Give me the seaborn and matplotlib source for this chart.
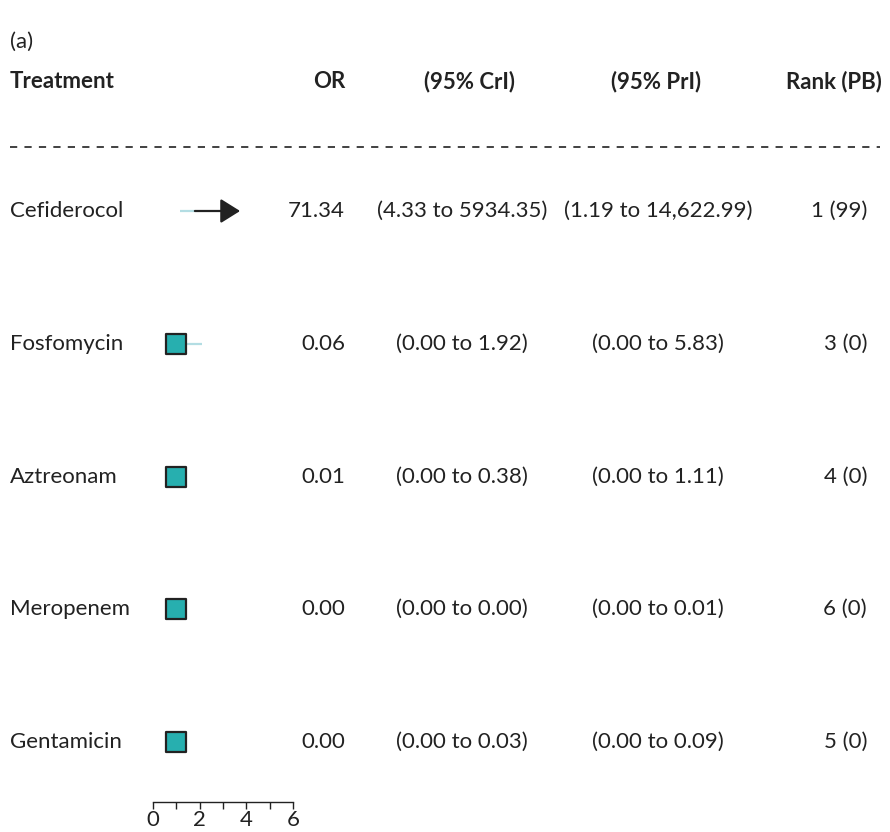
import matplotlib
matplotlib.use("Agg")
import matplotlib.pyplot as plt
import matplotlib.transforms as mtransforms
import pandas as pd
import seaborn as sns

# Données du forest plot
treatments = ['Cefiderocol', 'Fosfomycin', 'Aztreonam', 'Meropenem', 'Gentamicin']
or_text = ['71.34', '0.06', '0.01', '0.00', '0.00']
crl_text = ['(4.33 to 5934.35)', '(0.00 to 1.92)', '(0.00 to 0.38)', '(0.00 to 0.00)', '(0.00 to 0.03)']
prl_text = ['(1.19 to 14,622.99)', '(0.00 to 5.83)', '(0.00 to 1.11)', '(0.00 to 0.01)', '(0.00 to 0.09)']
rank_text = ['1 (99)', '3 (0)', '4 (0)', '6 (0)', '5 (0)']

square_x = [None, 1.0, 1.0, 1.0, 1.0]
pred_lo = [1.17, 1.0, 1.0, 1.0, 1.0]
pred_hi = [1.8, 2.09, 1.0, 1.0, 1.0]
arrow_lo = [1.8]
arrow_hi = [3.73]
x_ticks = [0, 1, 2, 3, 4, 5, 6]
x_ticklabels = ['0', '', '2', '', '4', '', '6']

sns.set_style('white')
plt.rcParams['font.family'] = ['Lato', 'DejaVu Sans']
plt.rcParams['text.color'] = '#222222'

W, H = 890, 832
fig = plt.figure(figsize=(W / 100, H / 100), dpi=100)

top_px, bot_px = 150, 802
row_px = [211, 345, 477, 609, 742]
step = (row_px[-1] - row_px[0]) / 4
ax = fig.add_axes([152.7 / W, 1 - bot_px / H, 140.6 / W, (bot_px - top_px) / H])
y_top = -(row_px[0] - top_px) / step
y_bot = (bot_px - row_px[0]) / step
ax.set_ylim(y_bot, y_top)
ax.set_xlim(0, 6)

rows = list(range(len(treatments)))

# intervalles de prédiction (bleu clair)
for i in rows:
    ax.plot([pred_lo[i], pred_hi[i]], [i, i], color='#b3dde3', lw=1.6, zorder=1, solid_capstyle='butt')

# flèche pour Cefiderocol (hors échelle)
ax.annotate('', xy=(arrow_hi[0], 0), xytext=(arrow_lo[0], 0),
            arrowprops=dict(arrowstyle='-|>,head_length=1.2,head_width=0.75',
                            color='#222222', lw=1.6, shrinkA=0, shrinkB=0), zorder=3)

df = pd.DataFrame({'x': square_x, 'y': rows}).dropna()
sns.scatterplot(data=df, x='x', y='y', marker='s', s=200, color='#27afaf',
                edgecolor='#222222', linewidth=1.6, ax=ax, zorder=4, legend=False)

ax.set_xlabel('')
ax.set_ylabel('')
ax.set_yticks([])
ax.set_xticks(x_ticks)
ax.set_xticklabels(x_ticklabels, fontsize=16, color='#222222')
ax.tick_params(axis='x', direction='out', length=5, width=1, color='#222222', pad=1, bottom=True)
for side in ['top', 'right', 'left']:
    ax.spines[side].set_visible(False)
ax.spines['bottom'].set_color('#222222')
ax.spines['bottom'].set_linewidth(1)
ax.patch.set_alpha(0)

# textes
fs = 16
fig.text(10 / W, 1 - 42 / H, '(a)', fontsize=fs, ha='left', va='center')
hy = 1 - 82 / H
fig.text(10 / W, hy, 'Treatment', fontsize=fs, fontweight='bold', ha='left', va='center')
fig.text(345 / W, hy, 'OR', fontsize=fs, fontweight='bold', ha='right', va='center')
fig.text(470 / W, hy, '(95% CrI)', fontsize=fs, fontweight='bold', ha='center', va='center')
fig.text(656 / W, hy, '(95% PrI)', fontsize=fs, fontweight='bold', ha='center', va='center')
fig.text(882 / W, hy, 'Rank (PB)', fontsize=fs, fontweight='bold', ha='right', va='center')

fig.add_artist(plt.Line2D([10 / W, 880 / W], [1 - 147 / H, 1 - 147 / H], transform=fig.transFigure,
                          color='#333333', lw=1.3, dashes=(4, 4)))

tr = mtransforms.blended_transform_factory(fig.transFigure, ax.transData)
for i in rows:
    fig.text(10 / W, i, treatments[i], fontsize=fs, ha='left', va='center', transform=tr)
    fig.text(345 / W, i, or_text[i], fontsize=fs, ha='right', va='center', transform=tr)
    fig.text(462 / W, i, crl_text[i], fontsize=fs, ha='center', va='center', transform=tr)
    fig.text(658 / W, i, prl_text[i], fontsize=fs, ha='center', va='center', transform=tr)
    fig.text(867 / W, i, rank_text[i], fontsize=fs, ha='right', va='center', transform=tr)

fig.savefig('out.png', dpi=100)
